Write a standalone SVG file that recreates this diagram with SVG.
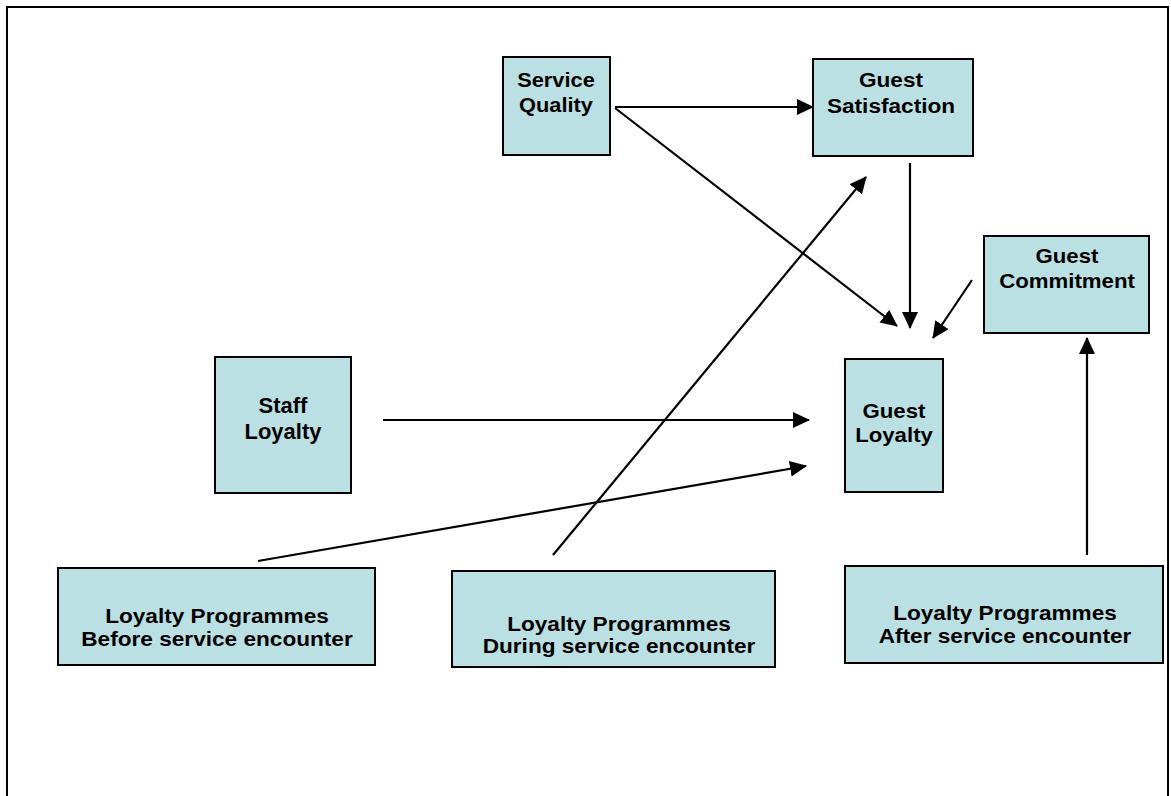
<svg xmlns="http://www.w3.org/2000/svg" width="1171" height="796" viewBox="0 0 1171 796">
  <style>
    .box { fill: #bbe0e3; stroke: #000; stroke-width: 2; }
    .lbl { font-family: "Liberation Sans", Arial, sans-serif; font-weight: bold; font-size: 19.5px; fill: #000; text-anchor: middle; }
    .big { font-size: 22px; }
    .edge { stroke: #000; stroke-width: 2.2; fill: none; marker-end: url(#arrow); }
  </style>
  <defs>
    <marker id="arrow" markerUnits="userSpaceOnUse" markerWidth="17" markerHeight="16" refX="16" refY="8" orient="auto">
      <path d="M0,0 L17,8 L0,16 Z" fill="#000"/>
    </marker>
  </defs>
  <rect width="1171" height="796" fill="#fff"/>
  <!-- page frame, open at the bottom -->
  <path d="M7,800 L7,7 L1168,7 L1168,800" fill="none" stroke="#000" stroke-width="2"/>

  <g id="service-quality">
    <rect class="box" x="503" y="57" width="107" height="98"/>
    <text class="lbl" transform="translate(556 87) scale(1.12 1)">Service</text>
    <text class="lbl" transform="translate(556 112) scale(1.12 1)">Quality</text>
  </g>
  <g id="guest-satisfaction">
    <rect class="box" x="813" y="59" width="160" height="97"/>
    <text class="lbl" transform="translate(891 87) scale(1.16 1)">Guest</text>
    <text class="lbl" transform="translate(891 113) scale(1.16 1)">Satisfaction</text>
  </g>
  <g id="guest-commitment">
    <rect class="box" x="984" y="236" width="165" height="97"/>
    <text class="lbl" transform="translate(1067 263) scale(1.14 1)">Guest</text>
    <text class="lbl" transform="translate(1067 288) scale(1.14 1)">Commitment</text>
  </g>
  <g id="staff-loyalty">
    <rect class="box" x="215" y="357" width="136" height="136"/>
    <text class="lbl big" x="283" y="413">Staff</text>
    <text class="lbl big" x="283" y="439">Loyalty</text>
  </g>
  <g id="guest-loyalty">
    <rect class="box" x="845" y="359" width="98" height="133"/>
    <text class="lbl" transform="translate(894 418) scale(1.14 1)">Guest</text>
    <text class="lbl" transform="translate(894 442) scale(1.14 1)">Loyalty</text>
  </g>
  <g id="lp-before">
    <rect class="box" x="58" y="568" width="317" height="97"/>
    <text class="lbl" transform="translate(217 623) scale(1.16 1)">Loyalty Programmes</text>
    <text class="lbl" transform="translate(217 646) scale(1.16 1)">Before service encounter</text>
  </g>
  <g id="lp-during">
    <rect class="box" x="452" y="571" width="323" height="96"/>
    <text class="lbl" transform="translate(619 631) scale(1.16 1)">Loyalty Programmes</text>
    <text class="lbl" transform="translate(619 653) scale(1.16 1)">During service encounter</text>
  </g>
  <g id="lp-after">
    <rect class="box" x="845" y="566" width="318" height="97"/>
    <text class="lbl" transform="translate(1005 620) scale(1.16 1)">Loyalty Programmes</text>
    <text class="lbl" transform="translate(1005 643) scale(1.16 1)">After service encounter</text>
  </g>

  <g id="connectors">
    <line class="edge" x1="615" y1="107" x2="813" y2="107"/>
    <line class="edge" x1="615" y1="108" x2="897" y2="326"/>
    <line class="edge" x1="910" y1="163" x2="910" y2="328"/>
    <line class="edge" x1="972" y1="280" x2="933" y2="338"/>
    <line class="edge" x1="383" y1="420" x2="809" y2="420"/>
    <line class="edge" x1="258" y1="561" x2="806" y2="466"/>
    <line class="edge" x1="553" y1="555" x2="866" y2="177"/>
    <line class="edge" x1="1087" y1="555" x2="1087" y2="338"/>
  </g>
</svg>
